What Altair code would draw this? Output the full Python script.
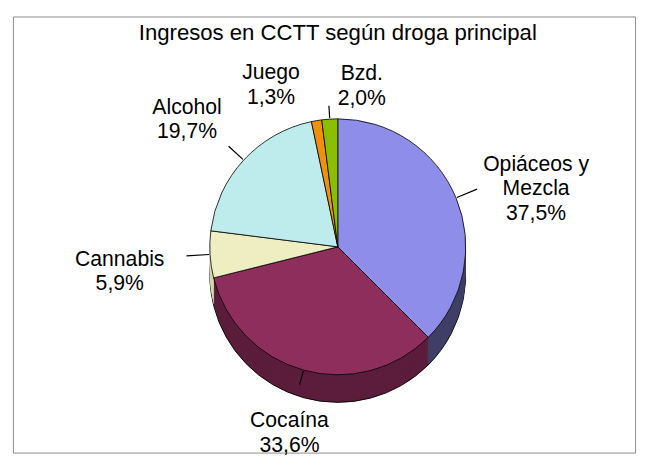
import math
import altair as alt
import pandas as pd

title_text = "Ingresos en CCTT según droga principal"
categories = ["Opiáceos y Mezcla", "Cocaína", "Cannabis", "Alcohol", "Juego", "Bzd."]
shares = [37.5, 33.6, 5.9, 19.7, 1.3, 2.0]
top_colors = ["#8E8EEA", "#8E2E5C", "#EEEEC2", "#BEECEC", "#F0900C", "#8CBE00"]
side_colors = ["#3E3E66", "#5C1D3C", "#D6D6AC", "#9CCACA", "#B86A00", "#6A9000"]

labels = [
    c.replace(" y ", " y\n") + "\n" + f"{s:.1f}".replace(".", ",") + "%"
    for c, s in zip(categories, shares)
]
df = pd.DataFrame({
    "cat": categories,
    "share": shares,
    "idx": list(range(len(categories))),
    "label": labels,
})

CX, CY, R, DEPTH = 330, 234, 130, 28
FONT = "Liberation Sans"

theta_scale = alt.Scale(domain=[0, 100], range=[0, 2 * math.pi])

base = alt.Chart(df).transform_stack(
    stack="share", groupby=[], as_=["t0", "t1"],
    sort=[alt.SortField("idx", order="ascending")],
)

side_fill = alt.Fill("cat:N", scale=alt.Scale(domain=categories, range=side_colors), legend=None)

side_layers = []
for d in range(DEPTH, 0, -2):
    mark = base.mark_arc(radius=R, stroke="#000000", strokeWidth=0.9) if d == DEPTH else base.mark_arc(radius=R)
    side_layers.append(
        mark.encode(
            theta=alt.Theta("t0:Q", scale=theta_scale),
            theta2="t1:Q",
            fill=side_fill,
            x=alt.value(CX),
            y=alt.value(CY + d),
        )
    )

top = base.mark_arc(radius=R, stroke="#000000", strokeWidth=0.8).encode(
    theta=alt.Theta("t0:Q", scale=theta_scale),
    theta2="t1:Q",
    color=alt.Color("cat:N", scale=alt.Scale(domain=categories, range=top_colors), legend=None),
    x=alt.value(CX),
    y=alt.value(CY),
)

lab = base.transform_calculate(
    mid0="(datum.t0 + datum.t1) / 2",
    mid="(datum.t0 + datum.t1) / 2 + (datum.share < 2.5 ? (datum.idx % 2 == 0 ? -3.2 : 3.2) : 0)",
).transform_calculate(
    lr=f"{R} + 40 + 52 * abs(sin(datum.mid / 100 * 2 * PI))"
).transform_calculate(
    r0=f"{R} + 1",
    le="datum.lr - 28 - 40 * abs(sin(datum.mid / 100 * 2 * PI))",
    la="datum.mid0 - 0.07",
    lb="datum.mid0 + 0.07",
)

leaders = lab.transform_filter("datum.share >= 2").mark_arc(color="#000000").encode(
    theta=alt.Theta("la:Q", scale=theta_scale),
    theta2="lb:Q",
    radius=alt.Radius("r0:Q", scale=None),
    radius2="le:Q",
    x=alt.value(CX),
    y=alt.value(CY),
)

text = lab.mark_text(
    font=FONT, fontSize=21.5, lineBreak="\n", lineHeight=25,
    align="center", baseline="middle", color="#000000",
).encode(
    theta=alt.Theta("mid:Q", scale=theta_scale),
    radius=alt.Radius("lr:Q", scale=None),
    text="label:N",
    x=alt.value(CX),
    y=alt.value(CY),
)

title = alt.Chart(pd.DataFrame({"t": [title_text]})).mark_text(
    font=FONT, fontSize=22.5, align="center", baseline="alphabetic", color="#000000",
).encode(
    text="t:N",
    x=alt.value(330),
    y=alt.value(24),
)

chart = alt.layer(*side_layers, top, leaders, text, title).properties(
    width=632, height=443
).configure_view(stroke="#8c8c8c", strokeWidth=1)

chart.save("out.html", embed_options={"renderer": "svg", "actions": False})
